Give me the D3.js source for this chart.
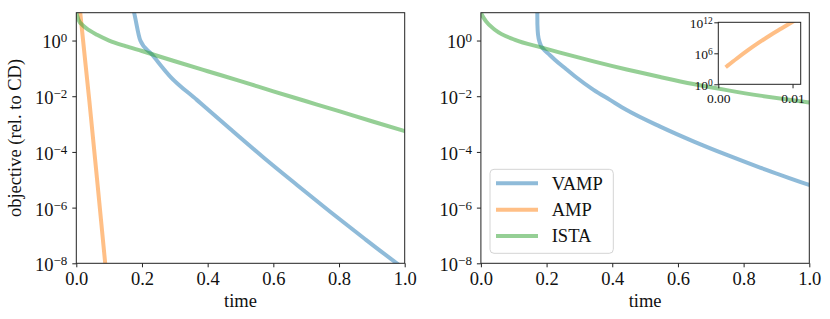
<!DOCTYPE html>
<html>
<head>
<meta charset="utf-8">
<script src="https://cdn.jsdelivr.net/npm/d3@7"></script>
<style>
  body { margin: 0; background: #fff; }
  svg { display: block; font-family: "Liberation Serif", "DejaVu Serif", serif; }
  .tick text { fill: #111; }
</style>
</head>
<body>
<svg id="chart" width="830" height="319"></svg>
<script>
"use strict";

// axis values
var timeTicks = [0.0, 0.2, 0.4, 0.6, 0.8, 1.0];
var timeTickLabels = ["0.0", "0.2", "0.4", "0.6", "0.8", "1.0"];
var objectiveTicks = [1e-8, 1e-6, 1e-4, 1e-2, 1e0];
var objectiveTickExps = ["\u22128", "\u22126", "\u22124", "\u22122", "0"];
var timeDomain = [0, 1];
var objectiveDomain = [1e-8, 1e1];

var seriesNames = ["VAMP", "AMP", "ISTA"];
var seriesColors = ["#1f77b4", "#ff7f0e", "#2ca02c"];

// left panel
var leftVampTime = [0.172, 0.177, 0.195, 0.23, 0.286, 0.367, 0.469, 0.57, 0.672, 0.773, 0.875, 0.976, 1.0];
var leftVampObj  = [16, 8.9, 1.0, 0.32, 0.051, 7.4e-3, 6.6e-4, 6.3e-5, 6.5e-6, 7.1e-7, 8.1e-8, 1.0e-8, 6.2e-9];
var leftAmpTime  = [0.004, 0.012, 0.04, 0.065, 0.088, 0.092];
var leftAmpObj   = [100, 10, 6.3e-3, 6.3e-6, 1.0e-8, 3.2e-9];
var leftIstaTime = [0.0, 0.007, 0.02, 0.04, 0.063, 0.1, 0.15, 0.2, 0.3, 0.4, 0.5, 0.6, 0.7, 0.8, 0.9, 1.0];
var leftIstaObj  = [10, 5.5, 3.5, 2.3, 1.6, 1.0, 0.63, 0.42, 0.18, 0.079, 0.035, 0.015, 6.6e-3, 2.9e-3, 1.26e-3, 5.6e-4];

// right panel
var rightVampTime = [0.1715, 0.172, 0.174, 0.18, 0.19, 0.205, 0.226, 0.26, 0.287, 0.343, 0.393, 0.444, 0.546, 0.647, 0.749, 0.85, 1.0];
var rightVampObj  = [32, 4.0, 1.6, 0.79, 0.5, 0.34, 0.2, 0.093, 0.051, 0.017, 7.4e-3, 3.2e-3, 8.1e-4, 2.4e-4, 7.8e-5, 2.75e-5, 6.5e-6];
var rightIstaTime = [0.0, 0.005, 0.015, 0.0435, 0.104, 0.186, 0.241, 0.343, 0.444, 0.546, 0.647, 0.749, 0.85, 1.0];
var rightIstaObj  = [10, 7.6, 5.0, 2.4, 1.06, 0.56, 0.37, 0.178, 0.091, 0.049, 0.0275, 0.0166, 0.0105, 6.0e-3];

// inset (AMP blowing up)
var insetAmpTime = [0.0012, 0.0025, 0.004, 0.0055, 0.007, 0.0085, 0.0099, 0.0106];
var insetAmpObj  = [3.5e3, 1e5, 4.0e6, 1.26e8, 3.2e9, 6.3e10, 1e12, 4e12];
var insetTimeTicks = [0.0, 0.01];
var insetTimeTickLabels = ["0.00", "0.01"];
var insetObjTicks = [1e0, 1e6, 1e12];
var insetObjTickExps = ["0", "6", "12"];
var insetTimeDomain = [0, 0.0111];
var insetObjDomain = [1e0, 1e12];

(function() {
  var Chart;

  Chart = (function() {
    function Chart() {
      this.svg = d3.select("#chart");
      this.fontSize = 18.5;
      this.clipCount = 0;
    }

    Chart.prototype.zip = function(ts, vs) {
      return ts.map(function(t, i) { return [t, vs[i]]; });
    };

    Chart.prototype.clip = function(box) {
      var id = "clip" + (this.clipCount++);
      this.svg.append("clipPath").attr("id", id)
        .append("rect")
        .attr("x", box.left).attr("y", box.top)
        .attr("width", box.right - box.left).attr("height", box.bottom - box.top);
      return "url(#" + id + ")";
    };

    // 10^exp labels on a log axis
    Chart.prototype.powerLabels = function(axisG, exps, supSize, supShift) {
      axisG.selectAll(".tick text").each(function(d, i) {
        var t = d3.select(this).text(null).attr("dy", "0.4em");
        t.append("tspan").text("10");
        t.append("tspan").attr("dy", -supShift).attr("font-size", supSize).text(exps[i]);
      });
    };

    Chart.prototype.drawLines = function(g, x, y, series, clipUrl) {
      var line = d3.line()
        .x(function(d) { return x(d[0]); })
        .y(function(d) { return y(d[1]); })
        .curve(d3.curveMonotoneX);
      g.append("g").attr("clip-path", clipUrl)
        .selectAll("path")
        .data(series)
        .enter()
        .append("path")
        .attr("d", function(d) { return line(d.points); })
        .attr("fill", "none")
        .attr("stroke", function(d) { return d.color; })
        .attr("stroke-opacity", 0.5)
        .attr("stroke-width", 4)
        .attr("stroke-linecap", "square")
        .attr("stroke-linejoin", "round");
    };

    Chart.prototype.drawPanel = function(box, series, withYLabel) {
      var _this = this, x, y, g, xAxis, yAxis;
      x = d3.scaleLinear().domain(timeDomain).range([box.left, box.right]);
      y = d3.scaleLog().domain(objectiveDomain).range([box.bottom, box.top]);
      g = this.svg.append("g");

      this.drawLines(g, x, y, series, this.clip(box));

      xAxis = g.append("g")
        .attr("transform", "translate(0," + box.bottom + ")")
        .call(d3.axisBottom(x).tickValues(timeTicks)
          .tickFormat(function(d, i) { return timeTickLabels[i]; })
          .tickSize(4).tickPadding(5));
      yAxis = g.append("g")
        .attr("transform", "translate(" + box.left + ",0)")
        .call(d3.axisLeft(y).tickValues(objectiveTicks)
          .tickFormat(function() { return ""; })
          .tickSize(4).tickPadding(5));
      this.powerLabels(yAxis, objectiveTickExps, 13, 6);

      [xAxis, yAxis].forEach(function(a) {
        a.select(".domain").remove();
        a.attr("font-size", _this.fontSize).attr("font-family", null).attr("color", "#222");
      });

      g.append("rect")
        .attr("x", box.left).attr("y", box.top)
        .attr("width", box.right - box.left).attr("height", box.bottom - box.top)
        .attr("fill", "none").attr("stroke", "#222").attr("stroke-width", 1);

      g.append("text")
        .attr("x", (box.left + box.right) / 2).attr("y", 307)
        .attr("text-anchor", "middle").attr("font-size", this.fontSize).attr("fill", "#111")
        .text("time");

      if (withYLabel) {
        g.append("text")
          .attr("transform", "translate(21," + ((box.top + box.bottom) / 2) + ") rotate(-90)")
          .attr("text-anchor", "middle").attr("font-size", this.fontSize).attr("fill", "#111")
          .text("objective (rel. to CD)");
      }
      return g;
    };

    Chart.prototype.drawLegend = function(g, left, top) {
      var _this = this, items;
      g.append("rect")
        .attr("x", left).attr("y", top).attr("width", 123.3).attr("height", 84)
        .attr("rx", 4).attr("ry", 4)
        .attr("fill", "#fff").attr("fill-opacity", 0.8)
        .attr("stroke", "#d4d4d4").attr("stroke-width", 1);
      items = g.selectAll(".legend-item")
        .data(seriesNames)
        .enter()
        .append("g")
        .attr("class", "legend-item")
        .attr("transform", function(d, i) { return "translate(" + left + "," + (top + 14 + i * 26.4) + ")"; });
      items.append("line")
        .attr("x1", 6).attr("x2", 48)
        .attr("stroke", function(d, i) { return seriesColors[i]; })
        .attr("stroke-opacity", 0.5).attr("stroke-width", 4);
      items.append("text")
        .attr("x", 61.7).attr("y", 6.2)
        .attr("font-size", _this.fontSize).attr("fill", "#111")
        .text(function(d) { return d; });
    };

    Chart.prototype.drawInset = function(box) {
      var x, y, g, xAxis, yAxis;
      x = d3.scaleLinear().domain(insetTimeDomain).range([box.left, box.right]);
      y = d3.scaleLog().domain(insetObjDomain).range([box.bottom, box.top]);
      g = this.svg.append("g");

      g.append("rect")
        .attr("x", box.left).attr("y", box.top)
        .attr("width", box.right - box.left).attr("height", box.bottom - box.top)
        .attr("fill", "#fff");

      this.drawLines(g, x, y, [{ points: this.zip(insetAmpTime, insetAmpObj), color: seriesColors[1] }], this.clip(box));

      xAxis = g.append("g")
        .attr("transform", "translate(0," + box.bottom + ")")
        .call(d3.axisBottom(x).tickValues(insetTimeTicks)
          .tickFormat(function(d, i) { return insetTimeTickLabels[i]; })
          .tickSize(4).tickPadding(4.8));
      yAxis = g.append("g")
        .attr("transform", "translate(" + box.left + ",0)")
        .call(d3.axisLeft(y).tickValues(insetObjTicks)
          .tickFormat(function() { return ""; })
          .tickSize(4).tickPadding(1.5));
      this.powerLabels(yAxis, insetObjTickExps, 9.5, 4.4);

      [xAxis, yAxis].forEach(function(a) {
        a.select(".domain").remove();
        a.attr("font-size", 13.5).attr("font-family", null).attr("color", "#222");
      });

      g.append("rect")
        .attr("x", box.left).attr("y", box.top)
        .attr("width", box.right - box.left).attr("height", box.bottom - box.top)
        .attr("fill", "none").attr("stroke", "#222").attr("stroke-width", 1);
    };

    Chart.prototype.render = function() {
      var leftSeries, rightSeries, right;
      leftSeries = [
        { points: this.zip(leftVampTime, leftVampObj), color: seriesColors[0] },
        { points: this.zip(leftAmpTime, leftAmpObj), color: seriesColors[1] },
        { points: this.zip(leftIstaTime, leftIstaObj), color: seriesColors[2] }
      ];
      rightSeries = [
        { points: this.zip(rightVampTime, rightVampObj), color: seriesColors[0] },
        { points: this.zip(rightIstaTime, rightIstaObj), color: seriesColors[2] }
      ];
      this.drawPanel({ left: 76.3, right: 404.7, top: 12.7, bottom: 263.3 }, leftSeries, true);
      right = this.drawPanel({ left: 480.9, right: 809.3, top: 12.7, bottom: 263.3 }, rightSeries, false);
      this.drawLegend(right, 490, 169.3);
      this.drawInset({ left: 718.3, right: 800.7, top: 22.3, bottom: 84.3 });
    };

    return Chart;
  })();

  window.chart = new Chart();
  window.chart.render();
}).call(this);
</script>
</body>
</html>
